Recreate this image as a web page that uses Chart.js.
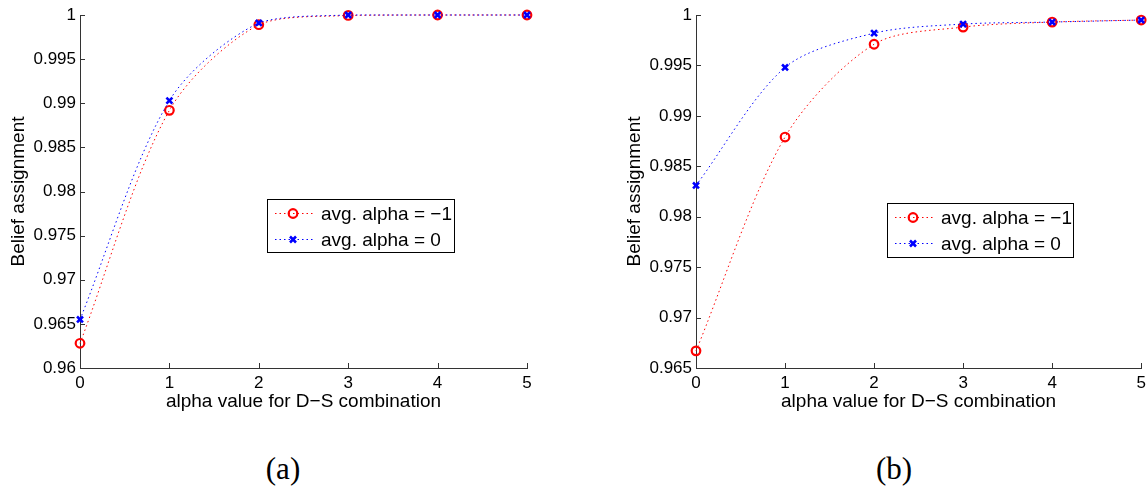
<!DOCTYPE html>
<html>
<head>
<meta charset="utf-8">
<script src="https://cdn.jsdelivr.net/npm/chart.js@4.4.1/dist/chart.umd.min.js"></script>
<style>
  html, body { margin: 0; padding: 0; background: #ffffff; }
  body { width: 1148px; height: 489px; position: relative; overflow: hidden; }
  canvas { position: absolute; top: 0; }
  #c1 { left: 0px; }
  #c2 { left: 574px; }
  .cap { position: absolute; top: 451px; font-family: "Liberation Serif", "DejaVu Serif", serif; font-size: 31px; color: #000; transform: translateX(-50%); white-space: nowrap; }
</style>
</head>
<body>
<canvas id="c1" width="574" height="420"></canvas>
<canvas id="c2" width="574" height="420"></canvas>
<div class="cap" style="left:283px">(a)</div>
<div class="cap" style="left:894px">(b)</div>
<script>
// ---- data ----
const alphaValues = [0, 1, 2, 3, 4, 5];
const seriesLabels = ["avg. alpha = \u22121", "avg. alpha = 0"];
const leftRed  = [0.9628, 0.9892, 0.9989, 0.99995, 1.0, 1.0];
const leftBlue = [0.9655, 0.9903, 0.9991, 1.0, 1.0, 1.0];
const rightRed  = [0.9667, 0.9879, 0.9971, 0.9988, 0.9993, 0.9995];
const rightBlue = [0.9831, 0.9948, 0.9982, 0.9991, 0.9993, 0.9995];
const leftYRange = [0.96, 1.0];
const rightYRange = [0.965, 1.0];
const yStep = 0.005;
const xTitle = "alpha value for D\u2212S combination";
const yTitle = "Belief assignment";

const SANS = '"Liberation Sans", Arial, Helvetica, sans-serif';
const AXIS_COLOR = '#333333';

function pts(vals) { return alphaValues.map((x, i) => ({ x: x, y: vals[i] })); }

// inward tick marks
const inwardTicks = {
  id: 'inwardTicks',
  afterDatasetsDraw(chart) {
    const ctx = chart.ctx, a = chart.chartArea;
    const xs = chart.scales.x, ys = chart.scales.y;
    ctx.save();
    ctx.strokeStyle = AXIS_COLOR;
    ctx.lineWidth = 1;
    ctx.beginPath();
    xs.ticks.forEach(t => {
      const px = Math.round(xs.getPixelForValue(t.value)) + 0.5;
      ctx.moveTo(px, a.bottom); ctx.lineTo(px, a.bottom - 5);
    });
    ys.ticks.forEach(t => {
      const py = Math.round(ys.getPixelForValue(t.value)) + 0.5;
      ctx.moveTo(a.left, py); ctx.lineTo(a.left + 5, py);
    });
    ctx.stroke();
    ctx.restore();
  }
};

function drawMarker(ctx, style, x, y, color) {
  ctx.save();
  ctx.strokeStyle = color;
  if (style === 'circle') {
    ctx.lineWidth = 2.2;
    ctx.beginPath(); ctx.arc(x, y, 4.3, 0, Math.PI * 2); ctx.stroke();
  } else {
    ctx.lineWidth = 2.6;
    const r = 3;
    ctx.beginPath();
    ctx.moveTo(x - r, y - r); ctx.lineTo(x + r, y + r);
    ctx.moveTo(x - r, y + r); ctx.lineTo(x + r, y - r);
    ctx.stroke();
  }
  ctx.restore();
}

// legend box inside the plot area
const boxLegend = {
  id: 'boxLegend',
  afterDraw(chart, args, opts) {
    const ctx = chart.ctx, a = chart.chartArea;
    const x0 = a.left + opts.dx, y0 = a.top + opts.dy;
    const w = opts.w, h = opts.h;
    ctx.save();
    ctx.fillStyle = '#ffffff';
    ctx.fillRect(x0, y0, w, h);
    ctx.strokeStyle = '#000000';
    ctx.lineWidth = 1;
    ctx.strokeRect(Math.round(x0) + 0.5, Math.round(y0) + 0.5, w, h);
    const rowY = [y0 + 14.5, y0 + 40.5];
    chart.data.datasets.forEach((ds, i) => {
      const y = rowY[i];
      ctx.save();
      ctx.strokeStyle = ds.borderColor;
      ctx.lineWidth = 1;
      ctx.setLineDash([1.5, 3]);
      ctx.beginPath(); ctx.moveTo(x0 + 8, y); ctx.lineTo(x0 + 46, y); ctx.stroke();
      ctx.restore();
      drawMarker(ctx, ds.pointStyle === 'circle' ? 'circle' : 'x', x0 + 26, y, ds.borderColor);
      ctx.fillStyle = '#000000';
      ctx.font = '19px ' + SANS;
      ctx.textAlign = 'left';
      ctx.textBaseline = 'middle';
      ctx.fillText(ds.label, x0 + 54, y + 1);
    });
    ctx.restore();
  }
};

function fmt(v) { return String(Number(v.toFixed(4))); }

function makeChart(id, red, blue, yr, padLeft, padRight, legendPos) {
  return new Chart(document.getElementById(id), {
    type: 'line',
    data: {
      datasets: [
        {
          label: seriesLabels[0], data: pts(red), order: 1,
          borderColor: '#ff0000', borderWidth: 1, borderDash: [1.5, 3],
          pointStyle: 'circle', pointRadius: 4.3, pointBorderWidth: 2.2,
          pointBackgroundColor: 'rgba(0,0,0,0)', pointBorderColor: '#ff0000',
          fill: false, tension: 0.3, clip: false
        },
        {
          label: seriesLabels[1], data: pts(blue), order: 0,
          borderColor: '#0000ff', borderWidth: 1, borderDash: [1.5, 3],
          pointStyle: 'crossRot', pointRadius: 4.2, pointBorderWidth: 2.6,
          pointBackgroundColor: '#0000ff', pointBorderColor: '#0000ff',
          fill: false, tension: 0.3, clip: false
        }
      ]
    },
    options: {
      responsive: false, animation: false, devicePixelRatio: 1,
      layout: { padding: { left: padLeft, right: padRight, top: 15, bottom: 0 } },
      plugins: { legend: { display: false }, tooltip: { enabled: false }, boxLegend: legendPos },
      scales: {
        x: {
          type: 'linear', min: 0, max: 5,
          ticks: { stepSize: 1, padding: 5, color: '#000', font: { family: SANS, size: 17 }, maxRotation: 0, autoSkip: false },
          grid: { display: false, drawTicks: false },
          border: { display: true, color: AXIS_COLOR, width: 1 },
          title: { display: true, text: xTitle, color: '#000', font: { family: SANS, size: 19 }, padding: { top: 0, bottom: 7 } },
          afterFit(s) { s.height = 52; s.paddingLeft = 0; s.paddingRight = 0; }
        },
        y: {
          type: 'linear', min: yr[0], max: yr[1],
          ticks: { stepSize: yStep, padding: 4, color: '#000', font: { family: SANS, size: 17 }, callback: v => fmt(v), autoSkip: false },
          grid: { display: false, drawTicks: false },
          border: { display: true, color: AXIS_COLOR, width: 1 },
          title: { display: true, text: yTitle, color: '#000', font: { family: SANS, size: 19 }, padding: { top: 7, bottom: 0 } },
          afterFit(s) { s.width = 80; s.paddingTop = 0; s.paddingBottom = 0; }
        }
      }
    },
    plugins: [inwardTicks, boxLegend]
  });
}

makeChart('c1', leftRed, leftBlue, leftYRange, 0, 47, { dx: 187, dy: 184, w: 187, h: 53 });
makeChart('c2', rightRed, rightBlue, rightYRange, 42, 5, { dx: 191, dy: 188, w: 186, h: 54 });
</script>
</body>
</html>
